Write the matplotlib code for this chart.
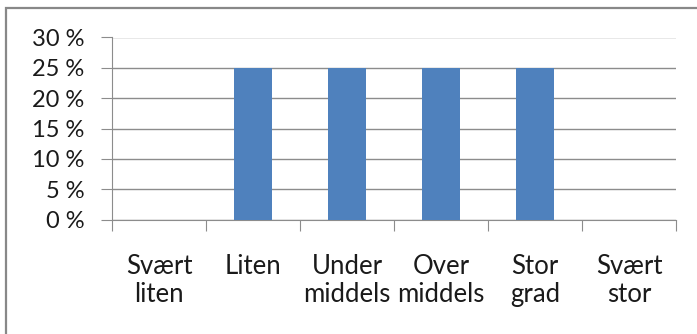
import matplotlib.pyplot as plt
from matplotlib.patches import Rectangle
from matplotlib.ticker import FuncFormatter

# Svarfordeling per kategori (andel)
categories = ['Svært\nliten', 'Liten', 'Under\nmiddels', 'Over\nmiddels', 'Stor\ngrad', 'Svært\nstor']
shares = [0.0, 0.25, 0.25, 0.25, 0.25, 0.0]
y_ticks = [0.0, 0.05, 0.10, 0.15, 0.20, 0.25, 0.30]

plt.rcParams['font.family'] = ['Lato', 'DejaVu Sans']

fig = plt.figure(figsize=(6.97, 3.34), dpi=100)
ax = fig.add_axes([112 / 697, 1 - 219.5 / 334, 564 / 697, 182 / 334])

x = range(len(categories))
ax.bar(x, shares, width=0.4, color='#4F81BD', zorder=3)

ax.set_xlim(-0.5, len(categories) - 0.5)
ax.set_ylim(0, 0.30)
ax.set_yticks(y_ticks)
ax.yaxis.set_major_formatter(FuncFormatter(lambda v, _: f'{round(v * 100):d} %'))
ax.grid(axis='y', color='#8c8c8c', linewidth=1, zorder=1)

# kategorietiketter midt i hver kolonne, tikk på grensene
ax.set_xticks([i - 0.5 for i in range(len(categories) + 1)])
ax.set_xticklabels([])
ax.set_xticks(list(x), minor=True)
ax.set_xticklabels(categories, minor=True, fontsize=18.5, color='#1a1a1a', linespacing=1.12)
ax.tick_params(axis='x', which='minor', length=0, pad=25)
ax.tick_params(axis='x', which='major', length=8, color='#8c8c8c', direction='out')
ax.tick_params(axis='y', length=8, color='#8c8c8c', labelsize=17, labelcolor='#1a1a1a', pad=12)

for side in ['top', 'right']:
    ax.spines[side].set_visible(False)
for side in ['left', 'bottom']:
    ax.spines[side].set_color('#8c8c8c')

# ramme rundt diagrammet (høyre og nedre kant ligger utenfor bildet)
fig.patches.append(Rectangle((6 / 697, -10 / 334), 720 / 697, 336 / 334, transform=fig.transFigure,
                             fill=False, edgecolor='#888888', linewidth=1.6))

fig.savefig('out.png', dpi=100)
